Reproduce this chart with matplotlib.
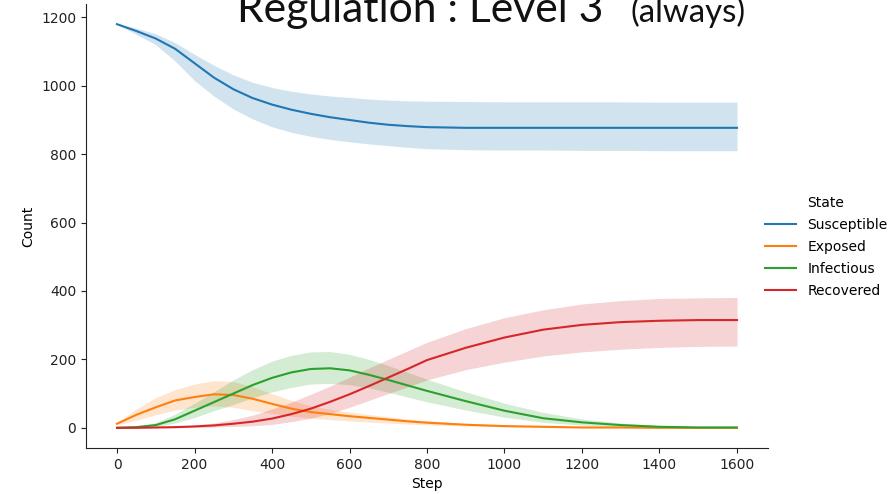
import matplotlib
matplotlib.use("Agg")
import matplotlib.pyplot as plt
from matplotlib.lines import Line2D

# Simulation step grid
steps = [0, 25, 50, 100, 150, 200, 250, 300, 350, 400, 450, 500, 550, 600,
         650, 700, 750, 800, 900, 1000, 1100, 1200, 1300, 1400, 1500, 1600]

# Mean counts per state
susceptible = [1180, 1170, 1160, 1138, 1108, 1066, 1024, 990, 964, 945, 930, 918,
               908, 900, 892, 886, 882, 879, 877, 877, 877, 877, 877, 877, 877, 877]
exposed = [12, 25, 38, 60, 80, 90, 98, 96, 85, 70, 56, 46, 40, 34, 29, 24, 19, 15,
           9, 5, 3, 1, 1, 0, 0, 0]
infectious = [0, 1, 2, 8, 25, 50, 75, 100, 125, 146, 162, 172, 174, 168, 155, 140,
              124, 108, 78, 50, 28, 16, 8, 3, 1, 1]
recovered = [0, 0, 0, 1, 2, 4, 7, 12, 18, 27, 40, 56, 76, 98, 122, 147, 172, 198,
             234, 264, 287, 301, 309, 313, 315, 315]

# Confidence band limits per state
susceptible_hi = [1180, 1175, 1168, 1152, 1126, 1092, 1060, 1032, 1010, 995, 984,
                  976, 970, 966, 961, 958, 956, 955, 954, 953, 953, 953, 953, 952, 952, 952]
susceptible_lo = [1180, 1165, 1150, 1120, 1072, 1015, 970, 932, 903, 880, 864, 852,
                  843, 836, 830, 825, 820, 816, 813, 812, 812, 811, 811, 810, 810, 810]
exposed_hi = [15, 35, 55, 88, 112, 128, 138, 135, 120, 100, 80, 64, 54, 46, 39, 32,
              26, 21, 13, 8, 5, 3, 2, 1, 0, 0]
exposed_lo = [10, 16, 22, 38, 52, 60, 64, 60, 50, 42, 34, 28, 24, 20, 17, 14, 11, 9,
              5, 3, 1, 0, 0, 0, 0, 0]
infectious_hi = [0, 2, 4, 15, 40, 72, 105, 140, 170, 195, 212, 222, 223, 215, 200,
                 182, 162, 142, 105, 72, 45, 26, 14, 6, 3, 2]
infectious_lo = [0, 0, 1, 4, 14, 30, 50, 68, 88, 105, 118, 128, 130, 126, 117, 104,
                 90, 76, 52, 31, 16, 8, 3, 1, 0, 0]
recovered_hi = [0, 0, 1, 2, 4, 8, 14, 24, 37, 55, 75, 98, 122, 148, 175, 200, 225,
                250, 290, 322, 345, 362, 372, 378, 380, 381]
recovered_lo = [0, 0, 0, 0, 0, 1, 2, 4, 6, 10, 18, 28, 42, 60, 80, 100, 120, 140,
                170, 192, 210, 222, 230, 235, 238, 239]

states = ["Susceptible", "Exposed", "Infectious", "Recovered"]
colors = ["#1f77b4", "#ff7f0e", "#2ca02c", "#d62728"]
means = [susceptible, exposed, infectious, recovered]
highs = [susceptible_hi, exposed_hi, infectious_hi, recovered_hi]
lows = [susceptible_lo, exposed_lo, infectious_lo, recovered_lo]

plt.rcParams["font.family"] = ["DejaVu Sans"]
plt.rcParams["font.size"] = 10

W, H = 892, 494
fig = plt.figure(figsize=(W / 100, H / 100), dpi=100)
ax = fig.add_axes([86 / W, 46 / H, (768 - 86) / W, (490 - 46) / H])

for name, col, m, hi, lo in zip(states, colors, means, highs, lows):
    ax.fill_between(steps, lo, hi, color=col, alpha=0.2, linewidth=0)
    ax.plot(steps, m, color=col, linewidth=1.5, label=name)

ax.set_xlim(-80, 1680)
ax.set_ylim(-59, 1239)
ax.set_xticks(range(0, 1601, 200))
ax.set_yticks(range(0, 1201, 200))
ax.set_xlabel("Step")
ax.set_ylabel("Count")
ax.spines["top"].set_visible(False)
ax.spines["right"].set_visible(False)
ax.tick_params(direction="out", length=3.5, width=0.8, colors="#222222")
for s in ("left", "bottom"):
    ax.spines[s].set_color("#222222")

handles = [Line2D([], [], linestyle="none")] + [
    Line2D([], [], color=c, linewidth=1.5) for c in colors]
labels = ["State"] + states
fig.legend(handles, labels, loc="center left",
           bbox_to_anchor=(752 / W, 1 - 247 / H), frameon=False,
           handlelength=2.3, handletextpad=0.8, labelspacing=0.58)

# Slide heading above the chart, sized to span its slot
renderer = fig.canvas.get_renderer()


def heading(text, x0, x1, base_size):
    t = fig.text(x0 / W, 1 - 22 / H, text, fontsize=base_size, family="Lato",
                 va="baseline", ha="left", color="#111111")
    for _ in range(3):
        w = t.get_window_extent(renderer).width
        t.set_fontsize(t.get_fontsize() * (x1 - x0) / w)
    return t


heading("Regulation : Level 3", 237, 603, 30)
heading("(always)", 630, 745, 22)

fig.savefig("out.png", dpi=100)
